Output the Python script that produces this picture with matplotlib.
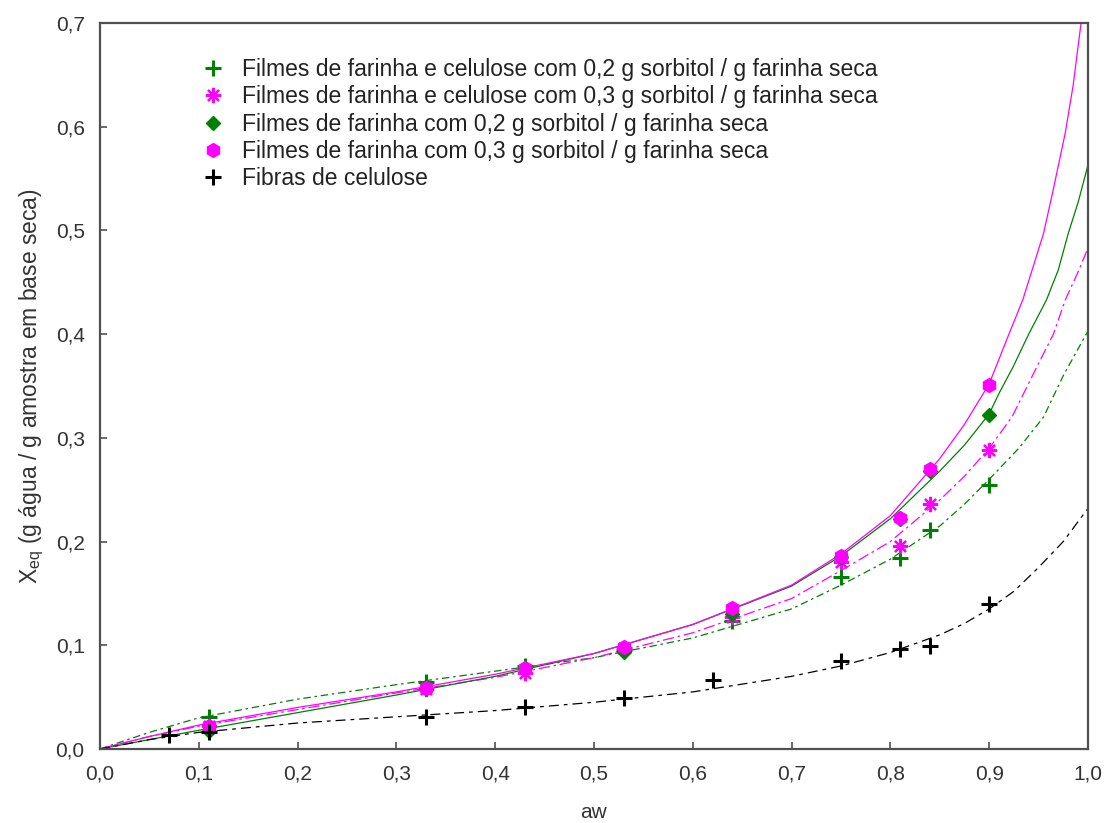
import matplotlib
matplotlib.use("Agg")
import matplotlib.pyplot as plt

plt.rcParams["font.family"] = ["Liberation Sans", "DejaVu Sans"]
plt.rcParams["mathtext.fontset"] = "custom"
plt.rcParams["mathtext.rm"] = "Liberation Sans"

# experimental points
aw_pts = [0.11, 0.33, 0.43, 0.53, 0.64, 0.75, 0.81, 0.84, 0.90]
fc02 = [0.031, 0.065, 0.080, 0.095, 0.123, 0.166, 0.184, 0.211, 0.255]
fc03 = [0.022, 0.058, 0.073, 0.097, 0.127, 0.180, 0.196, 0.236, 0.288]
f02 = [0.017, 0.058, 0.078, 0.093, 0.130, 0.185, 0.222, 0.268, 0.322]
f03 = [0.022, 0.059, 0.078, 0.098, 0.136, 0.186, 0.223, 0.270, 0.351]
aw_fib = [0.07, 0.11, 0.33, 0.43, 0.53, 0.62, 0.75, 0.81, 0.84, 0.90]
fibras = [0.013, 0.016, 0.031, 0.040, 0.049, 0.066, 0.085, 0.096, 0.099, 0.140]

# fitted curves
aw_base = [0, 0.05, 0.1, 0.2, 0.3, 0.4, 0.5, 0.6, 0.7, 0.75, 0.8, 0.85, 0.875, 0.9]

aw_fc02_fit = aw_base + [0.93, 0.955, 0.975, 1.0]
fc02_fit = [0, 0.016, 0.030, 0.048, 0.062, 0.075, 0.088, 0.107, 0.135, 0.158,
            0.183, 0.215, 0.236, 0.260, 0.290, 0.320, 0.360, 0.403]

aw_fc03_fit = aw_base + [0.923, 0.948, 0.965, 0.977, 0.99, 1.0]
fc03_fit = [0, 0.012, 0.022, 0.038, 0.054, 0.069, 0.088, 0.112, 0.145, 0.172,
            0.200, 0.240, 0.263, 0.290, 0.320, 0.368, 0.400, 0.433, 0.460, 0.483]

aw_f02_fit = aw_base + [0.91, 0.924, 0.94, 0.958, 0.97, 0.98, 0.99, 1.0]
f02_fit = [0, 0.009, 0.018, 0.035, 0.052, 0.070, 0.092, 0.120, 0.157, 0.186,
           0.222, 0.268, 0.293, 0.323, 0.343, 0.368, 0.400, 0.433, 0.462, 0.497,
           0.527, 0.563]

aw_f03_fit = aw_base + [0.92, 0.934, 0.955, 0.965, 0.977, 0.985, 0.993, 1.0]
f03_fit = [0, 0.012, 0.023, 0.040, 0.055, 0.072, 0.092, 0.120, 0.158, 0.188,
           0.225, 0.280, 0.313, 0.352, 0.400, 0.433, 0.497, 0.540, 0.594, 0.640,
           0.700, 0.760]

aw_fib_fit = aw_base + [0.925, 0.95, 0.975, 1.0]
fibras_fit = [0, 0.009, 0.016, 0.025, 0.031, 0.037, 0.045, 0.055, 0.070, 0.080,
              0.093, 0.110, 0.121, 0.135, 0.152, 0.175, 0.200, 0.232]

labels = [
    "Filmes de farinha e celulose com 0,2 g sorbitol / g farinha seca",
    "Filmes de farinha e celulose com 0,3 g sorbitol / g farinha seca",
    "Filmes de farinha com 0,2 g sorbitol / g farinha seca",
    "Filmes de farinha com 0,3 g sorbitol / g farinha seca",
    "Fibras de celulose",
]

green = "#008000"
magenta = "#ff00ff"

fig = plt.figure(figsize=(11.06, 8.23), dpi=100)
ax = fig.add_axes([0.0904, 0.09, 0.8933, 0.882])

lw = 0.9
ax.plot(aw_fc02_fit, fc02_fit, color=green, lw=lw, ls=(0, (6, 3, 2, 3)))
ax.plot(aw_fc03_fit, fc03_fit, color=magenta, lw=lw, ls=(0, (9, 3, 2, 3)))
ax.plot(aw_f02_fit, f02_fit, color=green, lw=lw, ls="-")
ax.plot(aw_f03_fit, f03_fit, color=magenta, lw=lw, ls="-")
ax.plot(aw_fib_fit, fibras_fit, color="black", lw=lw, ls=(0, (8, 4, 3, 4)))

ax.plot(aw_pts, fc02, ls="none", marker="+", ms=11, mew=2.2, color=green, label=labels[0])
ax.plot(aw_pts, fc03, ls="none", marker=(8, 2, 0), ms=11, mew=1.6, color=magenta, label=labels[1])
ax.plot(aw_pts, f02, ls="none", marker="D", ms=7, color=green, label=labels[2])
ax.plot(aw_pts, f03, ls="none", marker="h", ms=10, color=magenta, label=labels[3])
ax.plot(aw_fib, fibras, ls="none", marker="+", ms=11, mew=2.2, color="black", label=labels[4])

ax.set_xlim(0, 1.0)
ax.set_ylim(0, 0.7)
ticks_x = [0, 0.1, 0.2, 0.3, 0.4, 0.5, 0.6, 0.7, 0.8, 0.9, 1.0]
ticks_y = [0, 0.1, 0.2, 0.3, 0.4, 0.5, 0.6, 0.7]
ax.set_xticks(ticks_x)
ax.set_xticklabels([f"{t:.1f}".replace(".", ",") for t in ticks_x])
ax.set_yticks(ticks_y)
ax.set_yticklabels([f"{t:.1f}".replace(".", ",") for t in ticks_y])
ax.tick_params(direction="in", length=5, width=1.2, color="#505050",
               labelsize=15, labelcolor="#333333", pad=11)

for s in ax.spines.values():
    s.set_color("#505050")
    s.set_linewidth(1.6)

ax.set_xlabel("aw", fontsize=15, color="#333333", labelpad=14)
ax.set_ylabel(r"X$_{\rm eq}$ (g água / g amostra em base seca)", fontsize=16.5,
              color="#333333", labelpad=7)

leg = ax.legend(loc="upper left", bbox_to_anchor=(0.089, 0.974), frameon=False,
                fontsize=16.5, handlelength=0.8, handletextpad=0.85,
                labelspacing=0.19, borderpad=0.2, labelcolor="#222222")

fig.savefig("out.png", dpi=100)
